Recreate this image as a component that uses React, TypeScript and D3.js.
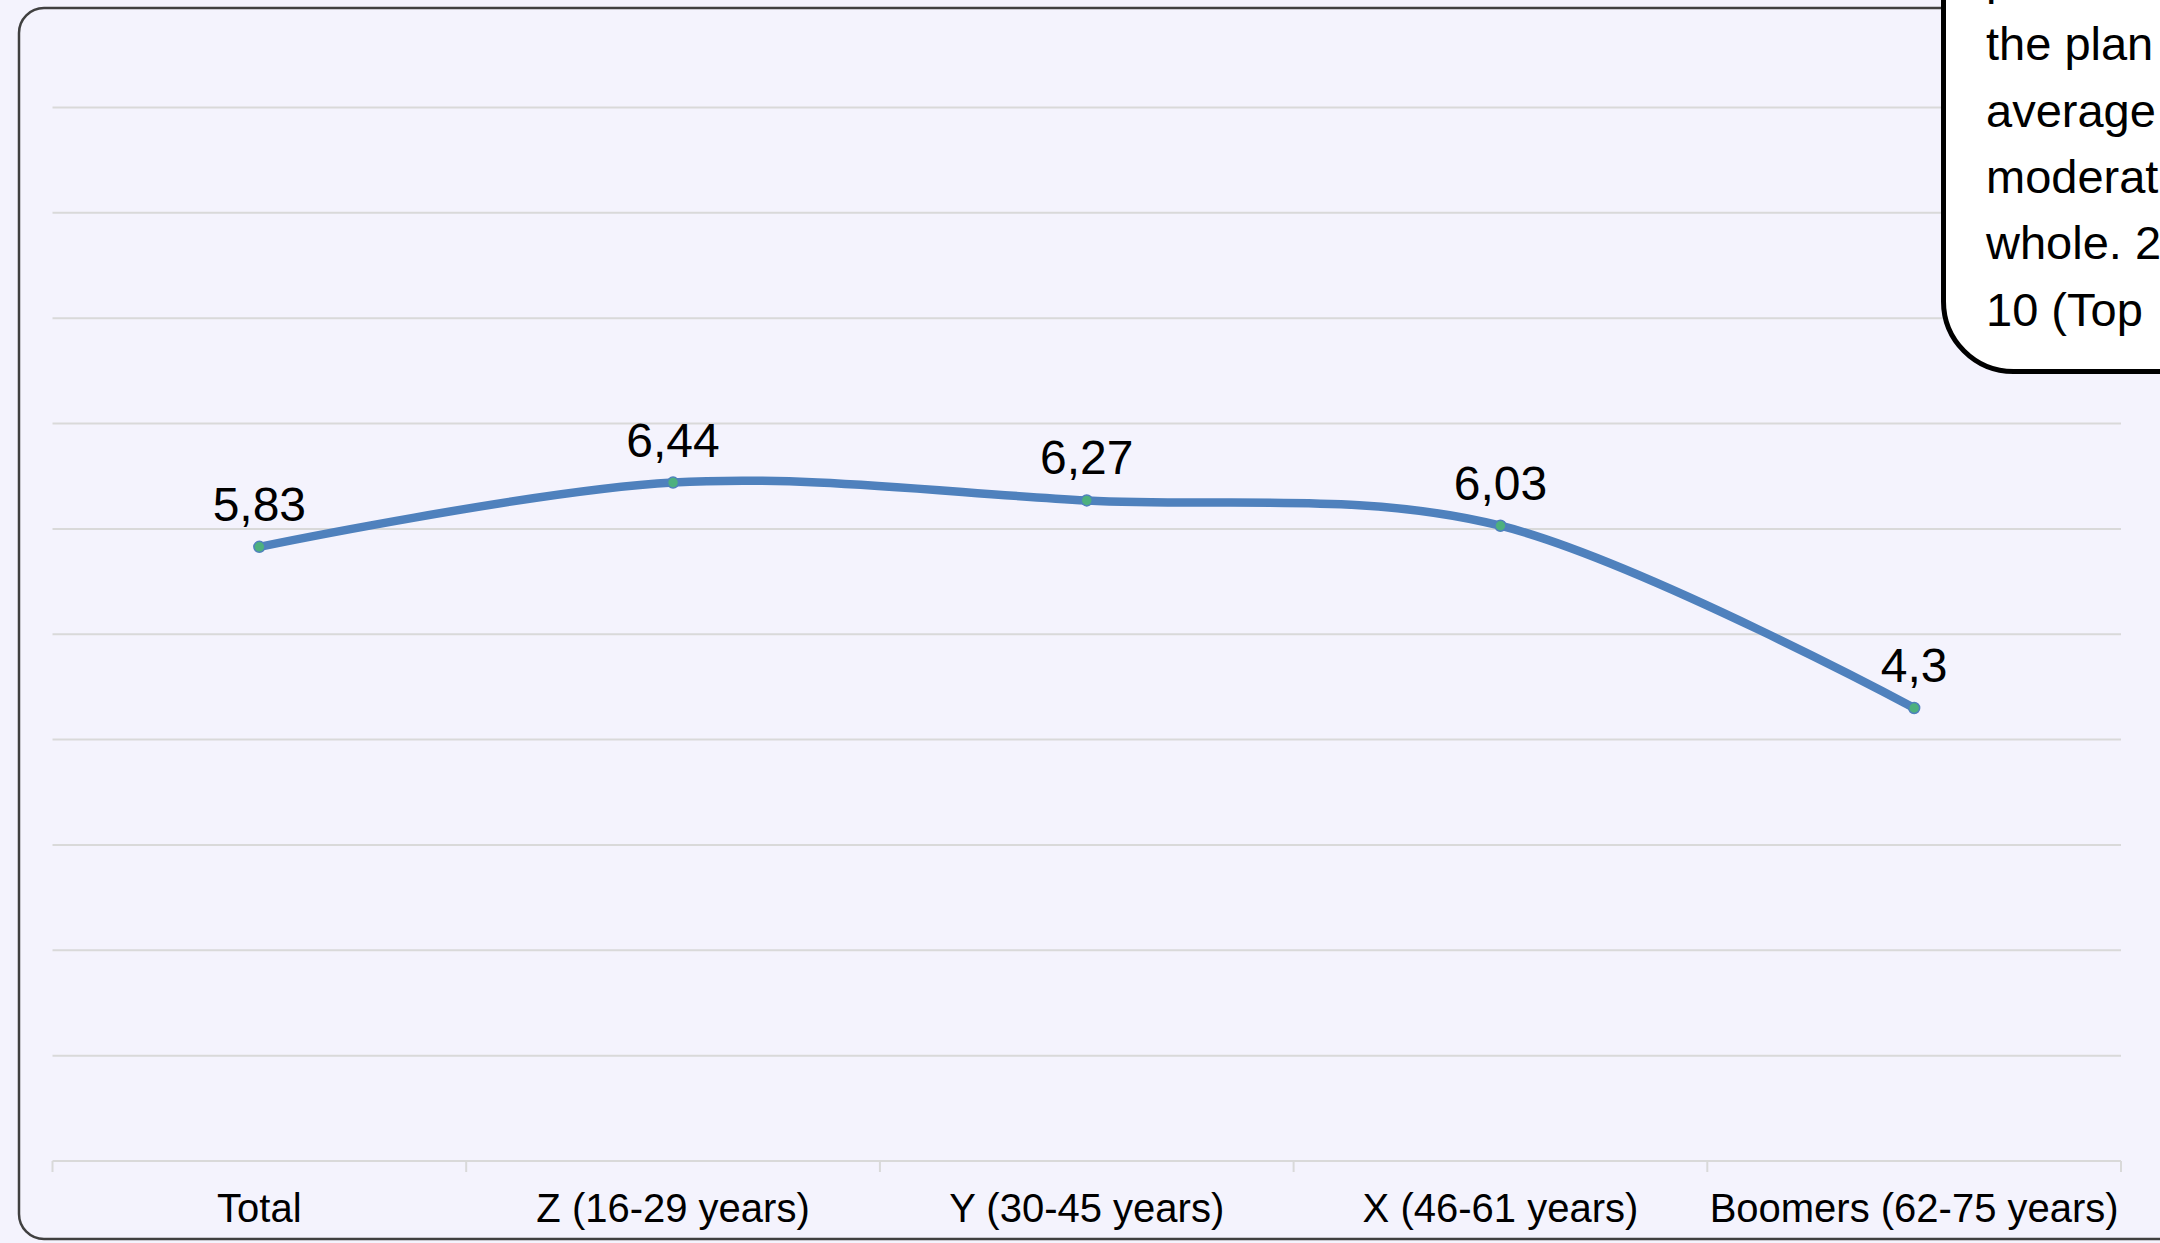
import React, { useEffect } from "react";
import * as d3 from "d3";

const categories: string[] = [
  "Total",
  "Z (16-29 years)",
  "Y (30-45 years)",
  "X (46-61 years)",
  "Boomers (62-75 years)",
];
const values: number[] = [5.83, 6.44, 6.27, 6.03, 4.3];
const valueLabels: string[] = ["5,83", "6,44", "6,27", "6,03", "4,3"];
const yTicks: number[] = [0, 1, 2, 3, 4, 5, 6, 7, 8, 9, 10];
const calloutLines: string[] = [
  "perceived as",
  "the plan for",
  "average level",
  "moderate for",
  "whole. 2023",
  "10 (Top",
];

const W = 2160;
const H = 1243;
const BG = "#F4F3FD";
const FONT = "'Liberation Sans', Arial, Helvetica, sans-serif";

export default function App() {
  useEffect(() => {
    document.body.style.margin = "0";
    document.body.style.background = BG;
  }, []);

  const x = d3.scaleBand<string>().domain(categories).range([52.5, 2121]).padding(0);
  const y = d3.scaleLinear().domain([0, 10]).range([1161, 107.5]);

  const pts: [number, number][] = values.map((v, i) => [
    (x(categories[i]) as number) + x.bandwidth() / 2,
    y(v),
  ]);
  const line = d3.line().curve(d3.curveCardinal.tension(0));
  const path = line(pts) || "";

  const boundaries = categories.map((c) => x(c) as number).concat([x.range()[1]]);

  return (
    <div style={{ position: "absolute", left: 0, top: 0, width: W, height: H, overflow: "hidden", background: BG }}>
      <svg width={W} height={H} style={{ display: "block" }} fontFamily={FONT}>
        <rect x={0} y={0} width={W} height={H} fill={BG} />
        <rect x={19} y={8} width={2400} height={1231} rx={25} ry={25} fill={BG} stroke="#404040" strokeWidth={2.5} />

        {yTicks.map((t) => (
          <line key={"g" + t} x1={x.range()[0]} x2={x.range()[1]} y1={y(t)} y2={y(t)} stroke="#D9D9D9" strokeWidth={2} />
        ))}
        {boundaries.map((b, i) => (
          <line key={"t" + i} x1={b} x2={b} y1={y(0)} y2={y(0) + 11} stroke="#D9D9D9" strokeWidth={2} />
        ))}
        {categories.map((c) => (
          <text
            key={"c" + c}
            x={(x(c) as number) + x.bandwidth() / 2}
            y={1222}
            textAnchor="middle"
            fontSize={40}
            fill="#000"
          >
            {c}
          </text>
        ))}

        <path d={path} fill="none" stroke="#4F81BD" strokeWidth={8.5} strokeLinecap="round" strokeLinejoin="round" />
        {pts.map((p, i) => (
          <circle key={"m" + i} cx={p[0]} cy={p[1]} r={5.5} fill="#4DB07E" stroke="#4F81BD" strokeWidth={1.5} />
        ))}
        {pts.map((p, i) => (
          <text key={"l" + i} x={p[0]} y={p[1] - 26} textAnchor="middle" fontSize={48} fill="#000">
            {valueLabels[i]}
          </text>
        ))}

        <rect x={1943.5} y={-200} width={500} height={571.5} rx={70} ry={70} fill="#FFFFFF" stroke="#000" strokeWidth={5} />
        {calloutLines.map((t, i) => (
          <text key={"k" + i} x={1986} y={-6 + i * 66.3} fontSize={47} fill="#000">
            {t}
          </text>
        ))}
      </svg>
    </div>
  );
}
